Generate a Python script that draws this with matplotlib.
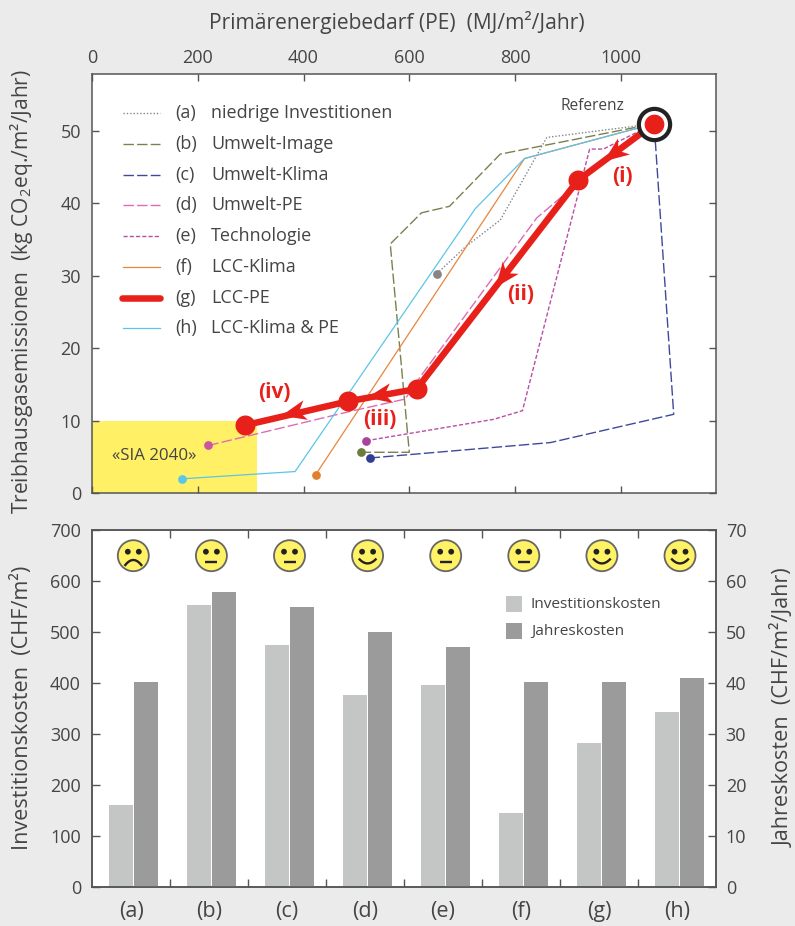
import numpy as np
import matplotlib
matplotlib.use('Agg')
import matplotlib.pyplot as plt
from matplotlib.patches import Circle, Polygon, Rectangle

plt.rcParams['font.family'] = ['Open Sans', 'DejaVu Sans']
plt.rcParams['mathtext.default'] = 'regular'

# Top panel data (PE, emissions)
REF = (1063, 51.0)
a_x = [652, 706, 772, 813, 860, 1063]
a_y = [30.3, 34.0, 37.7, 43.0, 49.1, 51.0]
b_x = [508, 600, 564, 623, 676, 772, 1063]
b_y = [5.66, 5.66, 34.4, 38.7, 39.6, 46.8, 51.0]
c_x = [525, 867, 1100, 1063]
c_y = [4.87, 7.0, 10.9, 51.0]
d_x = [220, 488, 592, 621, 841, 904, 1063]
d_y = [6.6, 11.3, 13.0, 16.1, 38.0, 41.9, 51.0]
e_x = [519, 759, 814, 941, 967, 1063]
e_y = [7.26, 10.2, 11.4, 47.5, 47.5, 51.0]
f_x = [423, 818, 1063]
f_y = [2.57, 46.2, 51.0]
g_x = [1063, 919, 614, 485, 290]
g_y = [51.0, 43.2, 14.4, 12.7, 9.4]
h_x = [171, 384, 725, 818, 1063]
h_y = [2.0, 3.0, 39.3, 46.2, 51.0]

# Arrow tips along the g line
arrow_x = [968, 763, 520, 358]
arrow_y = [45.8, 28.4, 13.2, 10.7]
arrow_seg = [0, 1, 2, 3]
step_labels = ['(i)', '(ii)', '(iii)', '(iv)']

# Bottom panel data
categories = ['(a)', '(b)', '(c)', '(d)', '(e)', '(f)', '(g)', '(h)']
invest = [160, 552, 475, 377, 397, 146, 283, 344]
jahres = [40.2, 57.8, 55.0, 50.0, 47.0, 40.2, 40.2, 41.0]
moods = [-1, 0, 0, 1, 0, 0, 1, 1]

W, H = 795, 926
BG = '#ebebeb'
TXT = '#454545'
SPINE = '#555555'
RED = '#e8201a'

fig = plt.figure(figsize=(W / 100, H / 100), dpi=100, facecolor=BG)


def add_axes_px(left, top, right, bottom):
    return fig.add_axes([left / W, 1 - bottom / H, (right - left) / W, (bottom - top) / H])


def style_axes(ax):
    for s in ax.spines.values():
        s.set_color(SPINE)
        s.set_linewidth(1.1)


# ----- top panel
L, R = 92, 716
ax = add_axes_px(L, 73.7, R, 493.3)
style_axes(ax)
ax.set_xlim(0, 1180)
ax.set_ylim(0, 57.9)
ax.set_xticks(range(0, 1001, 200))
ax.set_yticks(range(0, 51, 10))
ax.tick_params(axis='both', which='major', direction='in', length=5, width=1, color=SPINE,
               labelcolor=TXT, labelsize=13, top=True, right=True, bottom=True,
               labeltop=True, labelbottom=False, pad=5)
ax.tick_params(axis='y', pad=8)
ax.xaxis.set_label_position('top')
ax.set_xlabel('Primärenergiebedarf (PE)  (MJ/m²/Jahr)', fontsize=15.1, color=TXT)
ax.xaxis.set_label_coords((397 - L) / (R - L), (493.3 - 22) / 419.6, transform=ax.transAxes)
ax.xaxis.label.set_va('center')
ax.set_ylabel('Treibhausgasemissionen  (kg CO$_2$eq./m²/Jahr)', fontsize=15.1, color=TXT)
ax.yaxis.set_label_coords((22 - L) / (R - L), (493.3 - 292) / 419.6, transform=ax.transAxes)
ax.yaxis.label.set_va('center')

ax.add_patch(Rectangle((0, 0), 312, 10, facecolor='#fff066', edgecolor='none', zorder=0))
ax.text((154 - L) / 0.5288, 5.2, '«SIA 2040»', fontsize=12.2, color=TXT, ha='center', va='center')

series = [
    (a_x, a_y, '#858585', (0, (1, 1.4)), 1.0, '#858585', 'niedrige Investitionen'),
    (b_x, b_y, '#7b8050', (0, (7.5, 2.3)), 1.0, '#6a7d3c', 'Umwelt-Image'),
    (c_x, c_y, '#3d4a9a', (0, (7.5, 2.3)), 1.0, '#2f3f96', 'Umwelt-Klima'),
    (d_x, d_y, '#dc6db5', (0, (7.5, 2.3)), 1.0, '#cc559f', 'Umwelt-PE'),
    (e_x, e_y, '#b84fa5', (0, (3, 1.5)), 1.0, '#a8459a', 'Technologie'),
    (f_x, f_y, '#e8853f', '-', 0.9, '#e0802f', 'LCC-Klima'),
    None,
    (h_x, h_y, '#5cc5e8', '-', 0.9, '#5cc6e8', 'LCC-Klima & PE'),
]

for s in series:
    if s is None:
        continue
    ax.plot(s[0], s[1], color=s[2], ls=s[3], lw=s[4], zorder=2, clip_on=False)
    ax.plot(s[0][0], s[1][0], 'o', color=s[5], ms=6.3, mew=0, zorder=3)

# thick red path with its nodes
ax.plot(g_x, g_y, color=RED, lw=4.7, solid_capstyle='butt', solid_joinstyle='round', zorder=4)
ax.plot(g_x[1:], g_y[1:], 'o', color=RED, ms=14.4, mew=0, zorder=5)
ax.plot(REF[0], REF[1], 'o', mfc='white', mec='#222222', ms=22.5, mew=3, zorder=6)
ax.plot(REF[0], REF[1], 'o', color=RED, ms=14.2, mew=0, zorder=7)

ax.text((624 - L) / 0.5288, (493.3 - 106.5) / 7.246, 'Referenz', fontsize=11.2, color=TXT,
        ha='right', va='center')

label_px = [(622, 177), (521, 295), (380, 420), (274, 393)]
for lab, (px, py) in zip(step_labels, label_px):
    ax.text((px - L) / 0.5288, (493.3 - py) / 7.246, lab, fontsize=15, fontweight='bold',
            color=RED, ha='center', va='center', zorder=8)

# legend, drawn by hand so that the letters form their own column
row_y = [113, 144, 175, 205, 236, 267, 298, 328]
for s, lab, py in zip(series, categories, row_y):
    fy = (493.3 - py) / 419.6
    if s is None:
        ax.plot([(122 - L) / 624, (160 - L) / 624], [fy, fy], color=RED, lw=4.7,
                solid_capstyle='round', transform=ax.transAxes)
        name = 'LCC-PE'
    else:
        ax.plot([(123 - L) / 624, (160 - L) / 624], [fy, fy], color=s[2], ls=s[3], lw=s[4],
                transform=ax.transAxes)
        name = s[6]
    ax.text((175 - L) / 624, fy, lab, fontsize=13, color=TXT, va='center', transform=ax.transAxes)
    ax.text((211 - L) / 624, fy, name, fontsize=13, color=TXT, va='center', transform=ax.transAxes)

# ----- bottom panel
ax2 = add_axes_px(L, 530, R, 887)
style_axes(ax2)
ax2.set_xlim(-0.5, 7.5)
ax2.set_ylim(0, 700)
ax2.set_yticks(range(0, 701, 100))
ax2.set_xticks(np.arange(0.5, 7))
ax2.set_xticklabels([])
ax2.set_xticks(range(8), categories, minor=True)
ax2.tick_params(axis='x', which='major', direction='in', length=6, width=1, color=SPINE, top=True)
ax2.tick_params(axis='x', which='minor', length=0, labelsize=15.5, labelcolor=TXT, pad=10)
ax2.tick_params(axis='y', direction='in', length=6, width=1, color=SPINE, labelcolor=TXT,
                labelsize=13, pad=8)
ax2.set_ylabel('Investitionskosten  (CHF/m²)', fontsize=15.6, color=TXT)
ax2.yaxis.set_label_coords((22 - L) / (R - L), (887 - 708) / 357, transform=ax2.transAxes)
ax2.yaxis.label.set_va('center')

ax3 = ax2.twinx()
style_axes(ax3)
ax3.set_ylim(0, 70)
ax3.set_yticks(range(0, 71, 10))
ax3.tick_params(axis='y', direction='in', length=6, width=1, color=SPINE, labelcolor=TXT,
                labelsize=13, pad=7)
ax3.set_ylabel('Jahreskosten  (CHF/m²/Jahr)', fontsize=15.6, color=TXT)
ax3.yaxis.set_label_coords((783 - L) / (R - L), (887 - 708) / 357, transform=ax3.transAxes)
ax3.yaxis.label.set_va('center')

xs = np.arange(8) + 0.025
w = 0.308
ax2.bar(xs - w / 2, invest, w, color='#c4c6c5', label='Investitionskosten')
ax3.bar(xs + w / 2 + 0.012, jahres, w, color='#9b9b9b', label='Jahreskosten')

# overlay in pixel coordinates for legend squares, arrow heads and faces
ov = fig.add_axes([0, 0, 1, 1], facecolor='none')
ov.set_xlim(0, W)
ov.set_ylim(H, 0)
ov.axis('off')
ov.add_patch(Rectangle((506, 596), 16, 16, facecolor='#c4c6c5', edgecolor='none'))
ov.add_patch(Rectangle((506, 623), 16, 16, facecolor='#9b9b9b', edgecolor='none'))
ov.text(531, 604, 'Investitionskosten', fontsize=11.1, color=TXT, va='center')
ov.text(531, 631, 'Jahreskosten', fontsize=11.1, color=TXT, va='center')


def to_px(x, y):
    px = ax.transData.transform((x, y))
    return np.array([px[0], H - px[1]])


# barbed heads, turned along their segment
for tx, ty, i in zip(arrow_x, arrow_y, arrow_seg):
    d = to_px(g_x[i + 1], g_y[i + 1]) - to_px(g_x[i], g_y[i])
    d = d / np.hypot(*d)
    n = np.array([-d[1], d[0]])
    tip = to_px(tx, ty)
    ov.add_patch(Polygon([tip, tip - 25 * d + 10 * n, tip - 18 * d, tip - 25 * d - 10 * n],
                         closed=True, facecolor=RED, edgecolor='none'))


def draw_face(cx, cy, mood):
    ov.add_patch(Circle((cx, cy), 15.5, facecolor='#fff265', edgecolor='#666666', lw=1.3))
    for dx in (-5.5, 5.5):
        ov.add_patch(Circle((cx + dx, cy - 4), 2.9, facecolor='#222222', edgecolor='none'))
    t = np.linspace(-1, 1, 25)
    if mood == 0:
        ov.plot([cx - 6, cx + 6], [cy + 6, cy + 6], color='#222222', lw=1.7, solid_capstyle='butt')
    elif mood > 0:
        ov.plot(cx + 8 * t, cy + 7.7 - 4 * t ** 2, color='#222222', lw=1.7)
    else:
        ov.plot(cx + 8 * t, cy + 4.3 + 5 * t ** 2, color='#222222', lw=1.7)


for i, m in enumerate(moods):
    draw_face(133.3 + 78.1 * i, 555.7, m)

fig.savefig('out.png', dpi=100, facecolor=BG)
